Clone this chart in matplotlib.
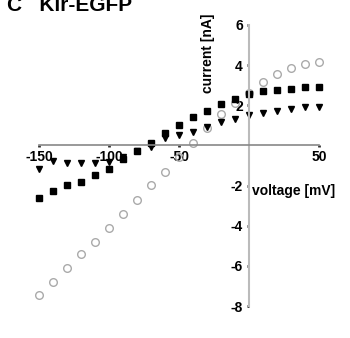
import matplotlib
matplotlib.use("Agg")
import matplotlib.pyplot as plt
import numpy as np

# voltage steps (mV) and currents (nA) for the three conditions
voltage = [-150, -140, -130, -120, -110, -100, -90, -80, -70, -60, -50,
           -40, -30, -20, -10, 0, 10, 20, 30, 40, 50]
open_circles = [-7.45, -6.8, -6.1, -5.4, -4.8, -4.1, -3.4, -2.7, -1.95, -1.3, -0.6,
                0.1, 0.85, 1.55, 2.1, 2.6, 3.15, 3.55, 3.85, 4.05, 4.15]
squares = [-2.6, -2.25, -1.95, -1.8, -1.45, -1.15, -0.7, -0.3, 0.1, 0.6, 1.0,
           1.4, 1.7, 2.05, 2.3, 2.55, 2.7, 2.75, 2.8, 2.9, 2.9]
triangles = [-1.15, -0.8, -0.9, -0.9, -0.9, -0.85, -0.6, -0.3, -0.1, 0.35, 0.5,
             0.65, 0.9, 1.15, 1.3, 1.5, 1.6, 1.7, 1.8, 1.9, 1.9]
xticks = [-150, -100, -50, 50]
yticks = [-8, -6, -4, -2, 2, 4, 6]

plt.rcParams["font.family"] = ["Liberation Sans", "DejaVu Sans"]
W, H = 350, 338
fig = plt.figure(figsize=(W / 100, H / 100), dpi=100)
ax = fig.add_axes([39 / W, (H - 306) / H, 280 / W, 281 / H])
ax.set_xlim(-150, 50)
ax.set_ylim(-8, 6)

ax.plot(voltage, open_circles, "o", ms=5.5, mfc="none", mec="#aaaaaa", mew=1.0, clip_on=False)
ax.plot(voltage, squares, "s", ms=5, color="black", clip_on=False)
ax.plot(voltage, triangles, "v", ms=5, color="black", clip_on=False)

for s in ("top", "right"):
    ax.spines[s].set_visible(False)
ax.spines["left"].set_position(("data", 0))
ax.spines["bottom"].set_position(("data", 0))
ax.spines["left"].set_color("#bbbbbb")
ax.spines["bottom"].set_color("#888888")
ax.spines["left"].set_linewidth(1.5)
ax.spines["bottom"].set_linewidth(1.2)

ax.set_xticks(xticks)
ax.set_yticks(yticks)
ax.set_xticklabels([str(t) for t in xticks], fontweight="bold", fontsize=10)
ax.set_yticklabels([str(t) for t in yticks], fontweight="bold", fontsize=10)
ax.tick_params(axis="both", length=1.5, width=2, color="#333333", pad=3)
ax.tick_params(axis="x", pad=2)

ax.text(-29.5, 2.6, "current [nA]", rotation=90, fontweight="bold", fontsize=10,
        ha="center", va="bottom")
ax.text(2, -2.25, "voltage [mV]", fontweight="bold", fontsize=10, ha="left", va="center")
fig.text(7 / W, 1 - 11 / H, "C   Kir-EGFP", fontweight="bold", fontsize=15,
         ha="left", va="baseline")

fig.savefig("out.png", dpi=100)
